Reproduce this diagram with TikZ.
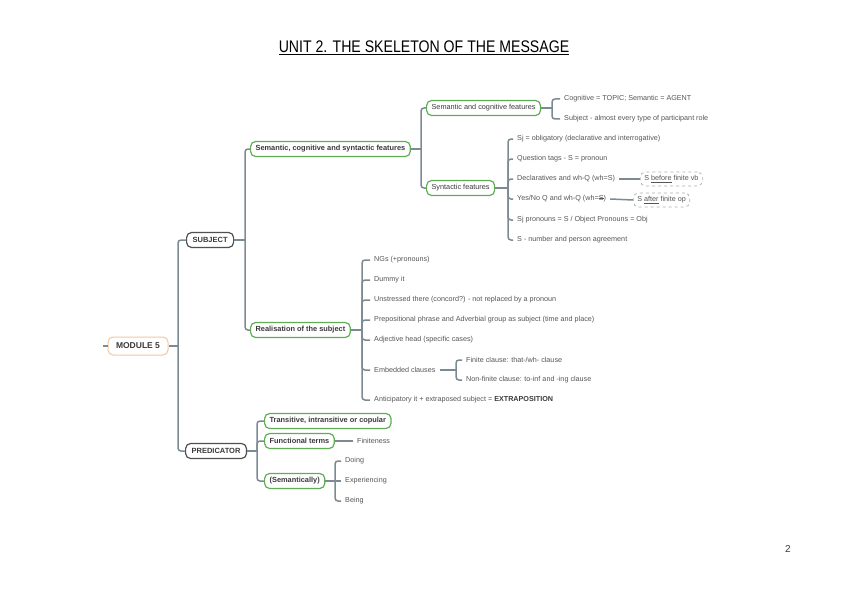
\documentclass[tikz,border=0pt]{standalone}
\usepackage{fontspec}
\setmainfont{Liberation Sans}
\newcommand\mystrike[1]{\setbox0\hbox{#1}\rlap{\raisebox{0.3em}{\rule{\wd0}{0.45pt}}}\box0}
\definecolor{conncol}{HTML}{7B8A93}
\definecolor{boxgreen}{HTML}{5FAE55}
\definecolor{boxdark}{HTML}{505050}
\definecolor{boxorange}{HTML}{F5C6A2}
\definecolor{txt}{HTML}{3A3A3A}
\definecolor{leaftxt}{HTML}{555555}
\begin{document}
\begin{tikzpicture}[x=1pt,y=-1pt,
  conn/.style={draw=conncol, line width=1.5pt, rounded corners=3pt},
  gbox/.style={draw=boxgreen, line width=1.2pt, rounded corners=5pt, fill=white, minimum height=15pt, inner xsep=5pt, inner ysep=2pt, anchor=west, text=txt, font=\fontsize{7.4}{9}\selectfont\bfseries},
  gboxr/.style={gbox, font=\fontsize{7.3}{9}\selectfont},
  dkbox/.style={gbox, draw=boxdark, inner xsep=6pt, font=\fontsize{7.5}{9}\selectfont\bfseries},
  orbox/.style={draw=boxorange, line width=1pt, rounded corners=5pt, fill=white, minimum height=18pt, minimum width=60pt, text=txt, font=\fontsize{8.5}{10}\selectfont\bfseries},
  leaf/.style={anchor=west, inner xsep=4pt, inner ysep=1pt, text=leaftxt, font=\fontsize{7.2}{9}\selectfont},
  dbox/.style={draw=gray!65, dashed, line width=0.7pt, rounded corners=5pt, minimum height=14pt, inner xsep=4pt, anchor=west, text=leaftxt, font=\fontsize{7.2}{9}\selectfont}
]
\useasboundingbox (0,0) rectangle (848,599);

% title and page number
\node (title) at (424,48) {\scalebox{0.84}[1]{\fontsize{16.8}{18}\selectfont\underline{UNIT 2. THE SKELETON OF THE MESSAGE}}};
\node[text=txt, font=\fontsize{10}{12}\selectfont] (pg) at (788,549) {2};

% main nodes
\node[orbox] (mod) at (138,346) {MODULE 5};
\node[dkbox] (subj) at (186,240) {SUBJECT};
\node[dkbox] (pred) at (185,451) {PREDICATOR};
\node[gbox] (scs) at (250,149) {Semantic, cognitive and syntactic features};
\node[gbox] (real) at (250,330) {Realisation of the subject};
\node[gboxr] (semcog) at (426,108) {Semantic and cognitive features};
\node[gboxr] (syn) at (426,188) {Syntactic features};

% semantic & cognitive leaves
\node[leaf] (sc1) at (560,99) {Cognitive = TOPIC; Semantic = AGENT};
\node[leaf] (sc2) at (560,119) {Subject - almost every type of participant role};

% syntactic leaves
\node[leaf] (sy1) at (513,139) {Sj = obligatory (declarative and interrogative)};
\node[leaf] (sy2) at (513,159) {Question tags - S = pronoun};
\node[leaf] (sy3) at (513,179) {Declaratives and wh-Q (wh=S)};
\node[leaf] (sy4) at (513,199) {Yes/No Q and wh-Q (wh=\mystrike{S})};
\node[leaf] (sy5) at (513,220) {Sj pronouns = S / Object Pronouns = Obj};
\node[leaf] (sy6) at (513,240) {S - number and person agreement};
\node[dbox] (db1) at (640,179) {S \underline{before} finite vb};
\node[dbox] (db2) at (633,200) {S \underline{after} finite op};

% realisation leaves
\node[leaf] (r1) at (370,260) {NGs (+pronouns)};
\node[leaf] (r2) at (370,280) {Dummy it};
\node[leaf] (r3) at (370,300) {Unstressed there (concord?) - not replaced by a pronoun};
\node[leaf] (r4) at (370,320) {Prepositional phrase and Adverbial group as subject (time and place)};
\node[leaf] (r5) at (370,340) {Adjective head (specific cases)};
\node[leaf] (r6) at (370,370) {Embedded clauses};
\node[leaf] (r7) at (370,400) {Anticipatory it + extraposed subject = \textbf{\color{txt}EXTRAPOSITION}};
\node[leaf] (e1) at (462,360) {Finite clause: that-/wh- clause};
\node[leaf] (e2) at (462,380) {Non-finite clause: to-inf and -ing clause};

% predicator
\node[gbox] (tr) at (264,421) {Transitive, intransitive or copular};
\node[gbox] (ft) at (264,441) {Functional terms};
\node[gbox] (sem) at (264,481) {(Semantically)};
\node[leaf] (fin) at (353,441) {Finiteness};
\node[leaf] (d1) at (341,461) {Doing};
\node[leaf] (d2) at (341,481) {Experiencing};
\node[leaf] (d3) at (341,501) {Being};

% bar coordinates
\coordinate (bmod) at (178,346);
\coordinate (bsubj) at (245,240);
\coordinate (bscs) at (421,149);
\coordinate (bsemcog) at (552,108);
\coordinate (bsyn) at (508,188);
\coordinate (breal) at (362,330);
\coordinate (bemb) at (456,370);
\coordinate (bpred) at (257,451);
\coordinate (bsem) at (335,481);

% connectors
\draw[conn] (mod.west) -- ++(-5,0);
\draw[conn] (mod.east) -- (bmod);
\draw[conn] (bmod) |- (subj.west);
\draw[conn] (bmod) |- (pred.west);

\draw[conn] (subj.east) -- (bsubj);
\draw[conn] (bsubj) |- (scs.west);
\draw[conn] (bsubj) |- (real.west);

\draw[conn] (scs.east) -- (bscs);
\draw[conn] (bscs) |- (semcog.west);
\draw[conn] (bscs) |- (syn.west);

\draw[conn] (semcog.east) -- (bsemcog);
\foreach \c in {sc1,sc2} \draw[conn] (bsemcog) |- (\c.west);

\draw[conn] (syn.east) -- (bsyn);
\foreach \c in {sy1,sy2,sy3,sy4,sy5,sy6} \draw[conn] (bsyn) |- (\c.west);
\draw[conn] (sy3.east) -- (db1.west);
\draw[conn] (sy4.east) -- (db2.west);

\draw[conn] (real.east) -- (breal);
\foreach \c in {r1,r2,r3,r4,r5,r6,r7} \draw[conn] (breal) |- (\c.west);
\draw[conn] (r6.east) -- (bemb);
\foreach \c in {e1,e2} \draw[conn] (bemb) |- (\c.west);

\draw[conn] (pred.east) -- (bpred);
\foreach \c in {tr,ft,sem} \draw[conn] (bpred) |- (\c.west);
\draw[conn] (ft.east) -- (fin.west);
\draw[conn] (sem.east) -- (bsem);
\draw[conn] (bsem) |- (d1.west);
\draw[conn] (bsem) -- (d2.west);
\draw[conn] (bsem) |- (d3.west);
\end{tikzpicture}
\end{document}
